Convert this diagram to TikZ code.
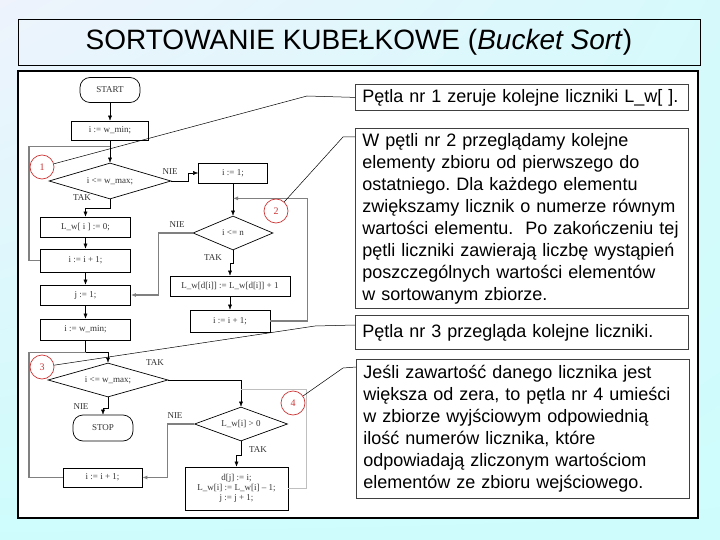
\documentclass[tikz,border=0pt]{standalone}
\usepackage{fontspec}
\setmainfont{Liberation Serif}
\setsansfont{Liberation Sans}
\usetikzlibrary{shapes.geometric,arrows.meta,shadings}
\frenchspacing

\definecolor{bgtl}{RGB}{238,243,252}
\definecolor{bgtr}{RGB}{214,250,252}
\definecolor{bgbot}{RGB}{206,252,252}
\definecolor{badgered}{RGB}{205,55,55}
\newcommand{\flowfont}{\rmfamily\fontsize{9}{10}\selectfont\color{black!80}}
\newcommand{\notefont}{\sffamily\fontsize{18}{22}\selectfont}

\tikzset{
    proc/.style={draw, line width=0.7pt, fill=white, inner sep=0pt, minimum width=90, minimum height=20, font=\flowfont},
    cond/.style={draw, diamond, aspect=3, line width=0.7pt, fill=white, inner sep=0pt, font=\flowfont},
    term/.style={draw, line width=0.7pt, fill=white, rounded corners=10pt, minimum width=60, minimum height=25, font=\flowfont},
    lbl/.style={inner sep=0pt, font=\flowfont},
    badge/.style={draw=badgered, circle, line width=0.7pt, minimum size=24, inner sep=0pt, text=badgered, font=\rmfamily\fontsize{10}{10}\selectfont},
    loopline/.style={gray, line width=1.1pt},
    pointer/.style={black, line width=0.5pt},
    note/.style={draw=black!75, fill=white, line width=0.8pt, anchor=north west, text width=319pt, inner xsep=7pt, inner ysep=0pt, align=left, font=\notefont}
}

\begin{document}
\begin{tikzpicture}[x=1pt, y=-1pt, >={Latex[length=5pt,width=4pt]}]
        % page, gradient background
        \useasboundingbox (0,0) rectangle (720,540);
        \shade[upper left=bgtl, upper right=bgtr, lower left=bgbot, lower right=bgbot] (0,0) rectangle (720,540);
        \node[draw, line width=0.8pt, minimum width=682, minimum height=46, font=\sffamily\fontsize{28}{32}\selectfont] (title) at (359,42) {SORTOWANIE KUBEŁKOWE (\textit{Bucket Sort})};
        \draw[line width=1.2pt, fill=white] (18,71) rectangle (698,518);

        % left column of the flowchart
        \node[term] (start) at (110,90) {START};
        \node[proc, minimum width=77, minimum height=19] (init1) at (110,130.5) {i := w\_min;};
        \node[cond, minimum width=122, minimum height=36] (cond1) at (110,181) {i <= w\_max;};
        \node[proc] (clr) at (85.5,227) {L\_w[ i ] := 0;};
        \node[proc, minimum height=23] (inc1) at (85.5,260.5) {i := i + 1;};
        \node[proc] (jset) at (85.5,295) {j := 1;};
        \node[proc, minimum height=21] (init3) at (85.5,329.5) {i := w\_min;};
        \node[cond, minimum width=120, minimum height=34] (cond3) at (108,380) {i <= w\_max;};
        \node[term, minimum height=26] (stop) at (103,428) {STOP};
        \node[proc, minimum width=79, minimum height=19] (inc3) at (102.5,477.5) {i := i + 1;};

        % right column of the flowchart
        \node[proc, minimum width=69] (set2) at (233,173) {i := 1;};
        \node[cond, minimum width=80, minimum height=34] (cond2) at (233,233) {i <= n};
        \node[proc, minimum width=120] (cnt) at (230,286) {L\_w[d[i]] := L\_w[d[i]] + 1};
        \node[proc, minimum width=80, minimum height=22] (inc2) at (230,321) {i := i + 1;};
        \node[cond, minimum width=93, minimum height=34] (cond4) at (241,424) {L\_w[i] > 0};
        \node[proc, minimum width=103, minimum height=43, align=center] (put) at (236.5,488.5) {d[j] := i;\\ L\_w[i] := L\_w[i] -- 1;\\ j := j + 1;};

        % yes / no labels
        \node[lbl] (nie1) at (170,172) {NIE};
        \node[lbl] (tak1) at (82,198) {TAK};
        \node[lbl] (nie2) at (177,225) {NIE};
        \node[lbl] (tak2) at (213,258) {TAK};
        \node[lbl] (tak3) at (155,363) {TAK};
        \node[lbl] (nie3) at (81,407) {NIE};
        \node[lbl] (nie4) at (175,416) {NIE};
        \node[lbl] (tak4) at (258,450) {TAK};

        % joints where the loops come back
        \coordinate (rail) at (29,0);
        \coordinate (m1) at ([yshift=-6pt]init1.south);
        \coordinate (m2) at ([yshift=-15pt]set2.south);
        \coordinate (m3) at ([yshift=-12pt]init3.south);
        \coordinate (m4) at ([yshift=17pt]cond4.north);

        % main flow
        \draw[->] (start) -- (init1);
        \draw[->] (init1) -- (cond1);
        \draw[->] (cond1.south) -- ++(0,9) -| (clr.north);
        \draw[->] (clr) -- (inc1);
        \draw[->] (inc1) -- (jset);
        \draw[->] (jset) -- (init3);
        \draw[->] (init3.south) -- (m3) -| (cond3.north);
        \draw[->] (cond1.east) -- ++(17,0) |- (set2.west);
        \draw[->] (set2.south) -- (cond2.north);
        \draw[->] (cond2.south) -- ++(0,13) -| (cnt.north);
        \draw[->] (cnt) -- (inc2);
        \draw[->] (cond3.east) -| (cond4.north);
        \draw[->] (cond3.south) -- ++(0,11) -| (stop.north);
        \draw[->] (cond4.south) -- ++(0,14) -| (put.north);

        % loops and no-branches
        \draw[loopline] (inc1.west) -- (inc1.west -| rail) |- (m1);
        \draw[loopline] (inc3.west) -- (inc3.west -| rail) |- (m3);
        \draw[loopline, ->] (inc2.east) -- ++(37,0) |- (m2);
        \draw[loopline, gray!50] (put.east) -- ++(18,0) |- (m4);
        \draw[loopline, ->] (cond2.west) -- ++(-34,0) |- (jset.east);
        \draw[loopline, ->] (cond4.west) -- ++(-27,0) |- (inc3.east);

        % loop numbers
        \node[badge] (n1) at (42,167) {1};
        \node[badge] (n2) at (276,211) {2};
        \node[badge] (n3) at (42,367) {3};
        \node[badge] (n4) at (293,403) {4};

        % explanations
        \node[note, minimum height=26] (t1) at (355,84) {Pętla nr 1 zeruje kolejne liczniki L\_w[ ].};
        \node[note, minimum height=180] (t2) at (355,128) {W pętli nr 2 przeglądamy kolejne\\
            elementy zbioru od pierwszego do\\
            ostatniego. Dla każdego elementu\\
            zwiększamy licznik o numerze równym\\
            wartości elementu.\ \ Po zakończeniu tej\\
            pętli liczniki zawierają liczbę wystąpień\\
            poszczególnych wartości elementów\\
            w sortowanym zbiorze.};
        \node[note, minimum height=34] (t3) at (355,315) {Pętla nr 3 przegląda kolejne liczniki.};
        \node[note, minimum height=139] (t4) at (356,359) {Jeśli zawartość danego licznika jest\\
            większa od zera, to pętla nr 4 umieści\\
            w zbiorze wyjściowym odpowiednią\\
            ilość numerów licznika, które\\
            odpowiadają zliczonym wartościom\\
            elementów ze zbioru wejściowego.};

        % pointers from numbers to notes
        \coordinate (k1) at (307,96);
        \coordinate (k2) at (343,137);
        \coordinate (k3) at (315,326);
        \coordinate (k4) at (343,368);
        \coordinate (e2) at ([yshift=-9pt]t2.north west);
        \coordinate (e3) at ([yshift=-10pt]t3.north west);
        \coordinate (e4) at ([yshift=-8pt]t4.north west);
        \draw[pointer] (n1) -- (k1) -- (t1.west);
        \draw[pointer] (n2) -- (k2) -- (e2);
        \draw[pointer] (n3) -- (k3) -- (e3);
        \draw[pointer] (n4) -- (k4) -- (e4);
    \end{tikzpicture}
\end{document}
